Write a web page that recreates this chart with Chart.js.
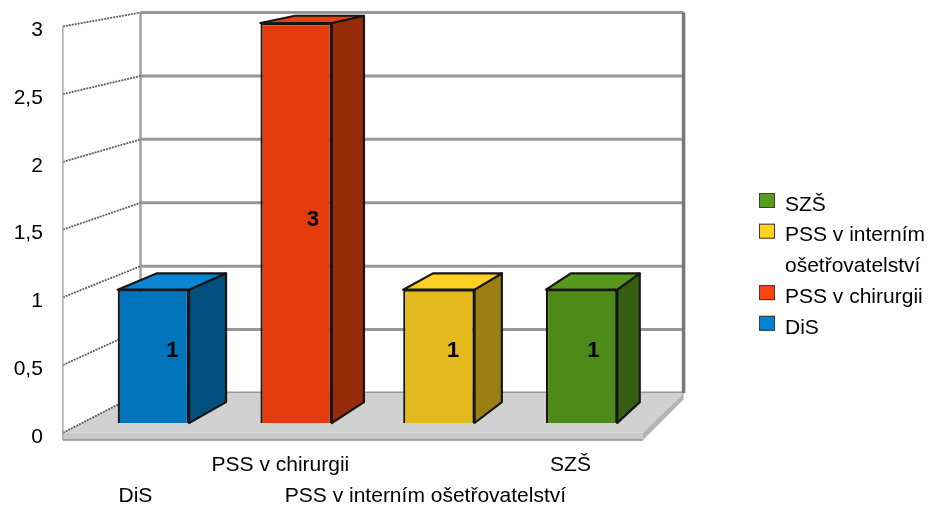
<!DOCTYPE html>
<html>
<head>
<meta charset="utf-8">
<script src="https://cdn.jsdelivr.net/npm/chart.js@4.4.0/dist/chart.umd.min.js"></script>
<style>
  html, body { margin: 0; padding: 0; background: #fff; }
  #wrap { width: 931px; height: 510px; position: relative; }
</style>
</head>
<body>
<div id="wrap"><canvas id="chart"></canvas></div>
<script>
// chart data
const categories = ['DiS', 'PSS v chirurgii', 'PSS v interním ošetřovatelství', 'SZŠ'];
const counts = [1, 3, 1, 1];
const yTickValues = [0, 0.5, 1, 1.5, 2, 2.5, 3];
const yTickLabels = ['0', '0,5', '1', '1,5', '2', '2,5', '3'];

// colours per category: legend swatch, front, side and top faces
const baseColors = ['#0084d1', '#ff420e', '#ffd320', '#579d1c'];
const frontColors = ['#0074bb', '#e53c0d', '#e4ba1e', '#4d8b19'];
const sideColors = ['#004f7e', '#972a08', '#9b7f13', '#345e10'];
const topColors = ['#0a86d2', '#e8430f', '#fcd022', '#56991c'];

const FONT = "'Liberation Sans', Arial, sans-serif";

// simple perspective: a point is pulled toward the vanishing point by its depth factor
const VP = { x: 1277, y: -190 };
const DEPTH = { axis: 1.016, barFront: 1, barBack: 0.966, wall: 0.951 };
const FLOOR_THICK = 7;

function proj(x, y, f) {
    return [VP.x + (x - VP.x) * f, VP.y + (y - VP.y) * f];
}

function poly(ctx, pts, fill, stroke, lw) {
    ctx.beginPath();
    ctx.moveTo(pts[0][0], pts[0][1]);
    for (let i = 1; i < pts.length; i++) ctx.lineTo(pts[i][0], pts[i][1]);
    ctx.closePath();
    if (fill) { ctx.fillStyle = fill; ctx.fill(); }
    if (stroke) { ctx.strokeStyle = stroke; ctx.lineWidth = lw || 1; ctx.stroke(); }
}

function line(ctx, a, b, color, lw, dash) {
    ctx.save();
    ctx.beginPath();
    ctx.setLineDash(dash || []);
    ctx.moveTo(a[0], a[1]);
    ctx.lineTo(b[0], b[1]);
    ctx.strokeStyle = color;
    ctx.lineWidth = lw;
    ctx.stroke();
    ctx.restore();
}

const box3d = {
    id: 'box3d',
    beforeDatasetsDraw(chart) {
        const ctx = chart.ctx;
        const area = chart.chartArea;
        const yScale = chart.scales.y;
        const l = area.left, r = area.right;
        const base = yScale.getPixelForValue(0);
        const top = yScale.getPixelForValue(yTickValues[yTickValues.length - 1]);

        ctx.save();
        ctx.lineJoin = 'round';

        // back wall grid
        yTickValues.forEach(function (v) {
            const py = yScale.getPixelForValue(v);
            line(ctx, proj(l, py, DEPTH.wall), proj(r, py, DEPTH.wall), '#979797', 3);
        });
        line(ctx, proj(l, top, DEPTH.wall), proj(l, base, DEPTH.wall), '#a0a0a0', 2.5);
        line(ctx, proj(r, top, DEPTH.wall), proj(r, base, DEPTH.wall), '#787878', 3.5);

        // floor slab
        poly(ctx, [proj(l, base, DEPTH.axis), proj(r, base, DEPTH.axis), proj(r, base, DEPTH.wall), proj(l, base, DEPTH.wall)], '#d1d1d1');
        poly(ctx, [proj(r, base, DEPTH.axis), proj(r, base, DEPTH.wall), proj(r, base + FLOOR_THICK, DEPTH.wall), proj(r, base + FLOOR_THICK, DEPTH.axis)], '#b4b4b4');
        poly(ctx, [proj(l, base, DEPTH.axis), proj(r, base, DEPTH.axis), proj(r, base + FLOOR_THICK, DEPTH.axis), proj(l, base + FLOOR_THICK, DEPTH.axis)], '#cacaca');
        line(ctx, proj(l, base + FLOOR_THICK, DEPTH.axis), proj(r, base + FLOOR_THICK, DEPTH.axis), '#8c8c8c', 1.5);

        // left side wall
        yTickValues.forEach(function (v) {
            const py = yScale.getPixelForValue(v);
            line(ctx, proj(l, py, DEPTH.axis), proj(l, py, DEPTH.wall), '#5e5e5e', 1.8, [2, 1]);
        });
        line(ctx, proj(l, top, DEPTH.axis), proj(l, base + FLOOR_THICK, DEPTH.axis), '#a8a8a8', 1.5);

        // side and top faces of the bars
        const meta = chart.getDatasetMeta(0);
        meta.data.forEach(function (bar, i) {
            const p = bar.getProps(['x', 'y', 'base', 'width'], true);
            const L = p.x - p.width / 2, R = p.x + p.width / 2;
            const T = p.y, B = p.base;
            poly(ctx, [[R, T], proj(R, T, DEPTH.barBack), proj(R, B, DEPTH.barBack), [R, B]], sideColors[i], '#161616', 2.2);
            poly(ctx, [[L, T], [R, T], proj(R, T, DEPTH.barBack), proj(L, T, DEPTH.barBack)], topColors[i], '#161616', 2.2);
        });
        ctx.restore();
    },
    afterDatasetsDraw(chart) {
        const ctx = chart.ctx;
        const area = chart.chartArea;
        const xScale = chart.scales.x, yScale = chart.scales.y;
        const base = yScale.getPixelForValue(0);
        const mid = (DEPTH.barFront + DEPTH.barBack) / 2;

        ctx.save();
        ctx.fillStyle = '#000';

        // value labels inside the bars
        ctx.font = 'bold 22px ' + FONT;
        ctx.textAlign = 'center';
        ctx.textBaseline = 'middle';
        chart.getDatasetMeta(0).data.forEach(function (bar, i) {
            const p = bar.getProps(['x', 'y', 'base'], true);
            const c = proj(p.x, (p.y + p.base) / 2, mid);
            ctx.fillText(String(counts[i]), c[0], c[1] + 4);
        });

        // y axis labels on the front edge of the side wall
        ctx.font = '21px ' + FONT;
        ctx.textAlign = 'right';
        yTickValues.forEach(function (v, i) {
            const c = proj(area.left, yScale.getPixelForValue(v), DEPTH.axis);
            ctx.fillText(yTickLabels[i], c[0] - 20, c[1] + 4);
        });

        // category labels, staggered on two rows
        ctx.textAlign = 'center';
        categories.forEach(function (cat, i) {
            const c = proj(xScale.getPixelForValue(i), base, DEPTH.axis);
            ctx.fillText(cat, c[0], c[1] + (i % 2 ? 32 : 63));
        });

        // legend, last category first
        const lx = 759, lineH = 30.7, maxW = 145;
        let ly = 205;
        for (let i = categories.length - 1; i >= 0; i--) {
            const words = categories[i].split(' ');
            const lines = [];
            let cur = '';
            words.forEach(function (w) {
                const t = cur ? cur + ' ' + w : w;
                if (cur && ctx.measureText(t).width > maxW) { lines.push(cur); cur = w; } else { cur = t; }
            });
            lines.push(cur);
            ctx.fillStyle = baseColors[i];
            ctx.fillRect(lx, ly - 12, 16, 15);
            ctx.strokeStyle = '#3a3a3a';
            ctx.lineWidth = 1;
            ctx.strokeRect(lx + 0.5, ly - 11.5, 15, 14);
            ctx.fillStyle = '#000';
            ctx.textAlign = 'left';
            lines.forEach(function (t, k) {
                ctx.fillText(t, lx + 26, ly + k * lineH);
            });
            ly += lines.length * lineH;
        }
        ctx.restore();
    }
};

new Chart(document.getElementById('chart'), {
    type: 'bar',
    data: {
        labels: categories,
        datasets: [{
            data: counts,
            backgroundColor: frontColors,
            borderColor: '#161616',
            borderWidth: 2.2,
            barPercentage: 0.5,
            categoryPercentage: 1
        }]
    },
    options: {
        responsive: true,
        maintainAspectRatio: false,
        animation: false,
        devicePixelRatio: 1,
        layout: { padding: { left: 82, right: 278, top: 23, bottom: 87 } },
        plugins: {
            legend: { display: false },
            tooltip: { enabled: false }
        },
        scales: {
            x: { display: false },
            y: { display: false, min: 0, max: 3 }
        }
    },
    plugins: [box3d]
});
</script>
</body>
</html>
